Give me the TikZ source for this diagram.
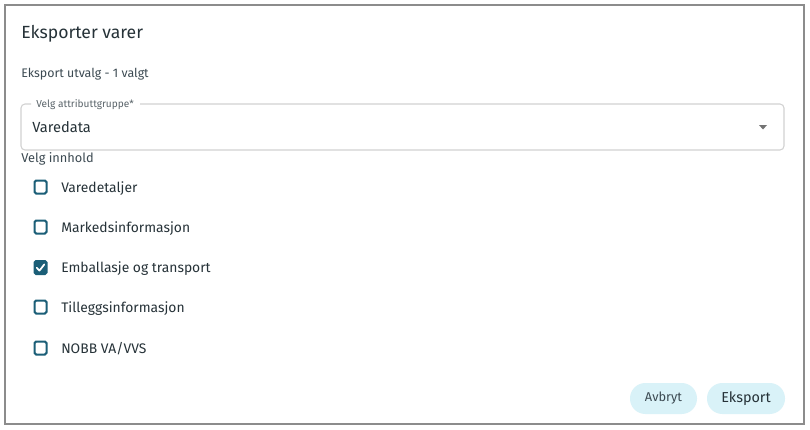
\documentclass[tikz,border=0pt]{standalone}
\usepackage{fontspec}
\setmainfont{Fira Sans}
\definecolor{txt}{HTML}{263238}
\definecolor{subtxt}{HTML}{3C4A52}
\definecolor{teal}{HTML}{1B5E77}
\definecolor{btnfill}{HTML}{D9F2F8}
\definecolor{frame}{HTML}{8C8C8C}
\definecolor{field}{HTML}{D2D2D2}
\definecolor{lbl}{HTML}{5A646A}
\begin{document}
\begin{tikzpicture}[x=0.75pt,y=-0.75pt,
  txtbase/.style={anchor=base west,inner sep=0pt,text=txt},
  cbox/.style={draw=teal,line width=1.5pt,rounded corners=1.2pt},
  cboxon/.style={fill=teal,draw=teal,line width=1.5pt,rounded corners=1.2pt},
  cblabel/.style={txtbase,font=\fontsize{10.4pt}{12pt}\selectfont},
  pill/.style={fill=btnfill,rounded corners=11.5pt,draw=none}]
\useasboundingbox (0,0) rectangle (810,429);
\fill[white] (0,0) rectangle (810,429);
% dialog frame
\draw[frame,line width=1.5pt] (4.5,4.5) rectangle (803.5,423.5);
% title
\node[txtbase,font=\fontsize{13.2pt}{16pt}\selectfont] (title) at (21,38) {Eksporter varer};
\node[txtbase,text=subtxt,font=\fontsize{9.3pt}{11pt}\selectfont] (sel) at (21,77) {Eksport utvalg - 1 valgt};
% select field
\draw[field,line width=0.8pt,rounded corners=3pt] (140,104) -- (784,104) -- (784,150) -- (21,150) -- (21,104) -- (31,104);
\node[txtbase,text=lbl,font=\fontsize{7.6pt}{9pt}\selectfont] (flabel) at (36,107.5) {Velg attributtgruppe*};
\node[txtbase,font=\fontsize{11pt}{13pt}\selectfont] (fvalue) at (32,132) {Varedata};
\fill[black!55] (759,125) -- (767,125) -- (763,129.5) -- cycle;
% content
\node[txtbase,text=subtxt,font=\fontsize{9.6pt}{11pt}\selectfont] (inn) at (21,162) {Velg innhold};
% checkboxes
\foreach \y/\t/\n in {187/Varedetaljer/a,227/Markedsinformasjon/b,307/Tilleggsinformasjon/d,348/NOBB VA\slash VVS/e}{
  \draw[cbox] (34.5,\y-6.5) rectangle (46.5,\y+6.5);
  \node[cblabel] (l\n) at (61,\y+5) {\t};
}
\draw[cboxon] (34.5,261) rectangle (46.5,274);
\draw[white,line width=1.3pt,line cap=round,line join=round] (36.8,267.8) -- (39.5,270.6) -- (44.3,264.4);
\node[cblabel] (lc) at (61,272.5) {Emballasje og transport};
% buttons
\fill[pill] (630,383) rectangle (697,414);
\node[text=subtxt,inner sep=0pt,font=\fontsize{9.6pt}{11pt}\selectfont] (avbryt) at (663.5,398) {Avbryt};
\fill[pill] (707,383) rectangle (785,414);
\node[text=txt,inner sep=0pt,font=\fontsize{10.8pt}{13pt}\selectfont] (eksport) at (746,398.5) {Eksport};
\end{tikzpicture}
\end{document}
